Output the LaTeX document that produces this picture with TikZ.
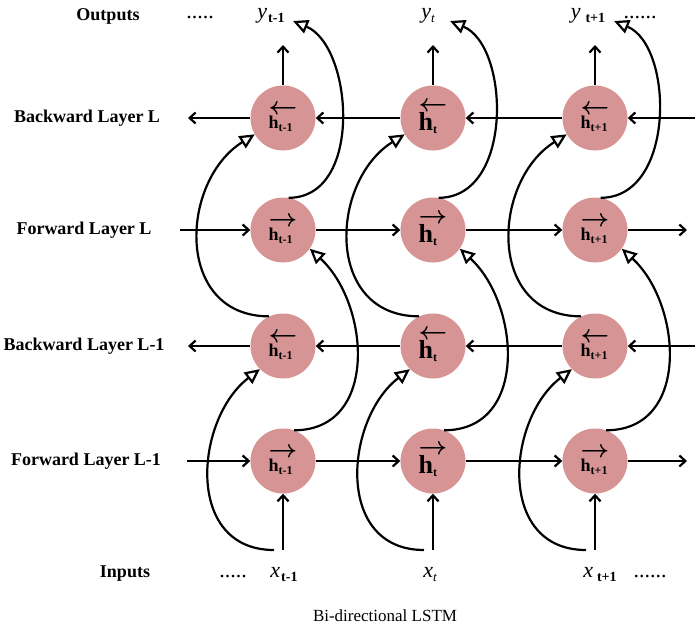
\documentclass[tikz,border=0pt]{standalone}
\usepackage{fontspec}
\setmainfont{Liberation Serif}
\usetikzlibrary{arrows.meta}

\newcommand{\cellText}[3]{%
  {\fontsize{25}{25}\selectfont\boldmath$#1$}\\
  {\fontsize{#3}{#3}\selectfont\bfseries h}\raisebox{-3pt}{\fontsize{12}{12}\selectfont\bfseries #2}}
\newcommand{\seqText}[3]{\textit{#1}\hspace{#3}\raisebox{-4pt}{\fontsize{14}{14}\selectfont\bfseries #2}}

\begin{document}
\begin{tikzpicture}[x=1pt,y=-1pt,
  cell/.style={circle,fill=cellPink,minimum size=65pt,inner sep=0pt,align=left},
  layerLab/.style={font=\fontsize{18}{20}\selectfont\bfseries},
  seqLab/.style={font=\fontsize{22}{24}\selectfont,anchor=base},
  flow/.style={line width=2.2pt,-{Straight Barb[length=6pt,width=11pt]}},
  feed/.style={line width=2.2pt,-{Triangle[open,fill=white,length=15pt,width=14pt]}}]
\definecolor{cellPink}{HTML}{D69494}
\useasboundingbox (0,0) rectangle (696,624);
% four layers, one column per time step
\foreach \c/\x/\sub/\hs/\tip in {a/283/t-1/18/10,b/433/t/26/17,c/595/t+1/18/19} {
  \node[cell] (bwdTop\c) at (\x,118) {\cellText{\leftarrow}{\sub}{\hs}};
  \node[cell] (fwdTop\c) at (\x,230) {\cellText{\rightarrow}{\sub}{\hs}};
  \node[cell] (bwdLow\c) at (\x,346) {\cellText{\leftarrow}{\sub}{\hs}};
  \node[cell] (fwdLow\c) at (\x,461) {\cellText{\rightarrow}{\sub}{\hs}};
  \coordinate (src\c) at (\x,550);
  \coordinate (out\c) at (\x,45);
  \coordinate (tip\c) at (\x+\tip,21);
  \draw[flow] (src\c) -- (fwdLow\c);
  \draw[flow] (bwdTop\c) -- (out\c);
  \draw[feed] ([xshift=-9pt]src\c) .. controls +(-90,0) and +(-65,50) .. (bwdLow\c.225);
  \draw[feed] (bwdLow\c.115) .. controls +(-95,0) and +(-75,47) .. (bwdTop\c.210);
  \draw[feed] (fwdLow\c.70) .. controls +(85,0) and +(60,55) .. (fwdTop\c.-35);
  \draw[feed] (fwdTop\c.80) .. controls +(75,0) and +(60,25) .. (tip\c);
}
% loose ends of the recurrent chains
\coordinate (bwdTopIn) at (695,118);
\coordinate (bwdTopOut) at (188,118);
\coordinate (fwdTopIn) at (180,230);
\coordinate (fwdTopOut) at (687,230);
\coordinate (bwdLowIn) at (695,346);
\coordinate (bwdLowOut) at (188,346);
\coordinate (fwdLowIn) at (187,461);
\coordinate (fwdLowOut) at (687,461);
\draw[flow] (bwdTopIn) -- (bwdTopc);
\draw[flow] (bwdTopc) -- (bwdTopb);
\draw[flow] (bwdTopb) -- (bwdTopa);
\draw[flow] (bwdTopa) -- (bwdTopOut);
\draw[flow] (fwdTopIn) -- (fwdTopa);
\draw[flow] (fwdTopa) -- (fwdTopb);
\draw[flow] (fwdTopb) -- (fwdTopc);
\draw[flow] (fwdTopc) -- (fwdTopOut);
\draw[flow] (bwdLowIn) -- (bwdLowc);
\draw[flow] (bwdLowc) -- (bwdLowb);
\draw[flow] (bwdLowb) -- (bwdLowa);
\draw[flow] (bwdLowa) -- (bwdLowOut);
\draw[flow] (fwdLowIn) -- (fwdLowa);
\draw[flow] (fwdLowa) -- (fwdLowb);
\draw[flow] (fwdLowb) -- (fwdLowc);
\draw[flow] (fwdLowc) -- (fwdLowOut);
% labels
\node[layerLab] (labBwdTop) at (87,118) {Backward Layer L};
\node[layerLab] (labFwdTop) at (84,230) {Forward Layer L};
\node[layerLab] (labBwdLow) at (84,346) {Backward Layer L-1};
\node[layerLab] (labFwdLow) at (86,461) {Forward Layer L-1};
\node[layerLab,anchor=base] (labOut) at (108,20) {Outputs};
\node[layerLab,anchor=base] (labIn) at (125,577) {Inputs};
\node[seqLab] (ya) at (271,18) {\seqText{y}{t-1}{1pt}};
\node[seqLab] (yb) at (428,18) {\textit{y}\raisebox{-4pt}{\fontsize{13}{13}\selectfont\itshape t}};
\node[seqLab] (yc) at (588,18) {\seqText{y}{t+1}{5pt}};
\node[seqLab] (xa) at (284,577) {\seqText{x}{t-1}{1pt}};
\node[seqLab] (xb) at (430,577) {\textit{x}\raisebox{-4pt}{\fontsize{13}{13}\selectfont\itshape t}};
\node[seqLab] (xc) at (600,577) {\seqText{x}{t+1}{4pt}};
\node[seqLab] (dotsOutL) at (200,18) {.....};
\node[seqLab] (dotsOutR) at (640,18) {......};
\node[seqLab] (dotsInL) at (233,577) {.....};
\node[seqLab] (dotsInR) at (650,577) {......};
\node[font=\fontsize{17}{20}\selectfont,anchor=base] (caption) at (385,621) {Bi-directional LSTM};
\end{tikzpicture}
\end{document}
